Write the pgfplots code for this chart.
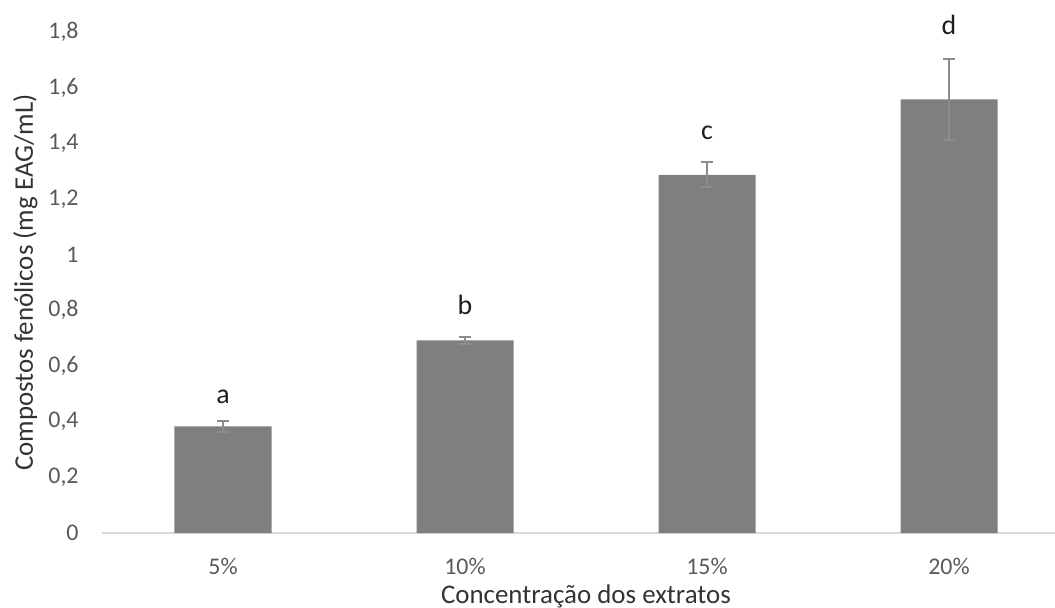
\documentclass[border=0pt]{standalone}
\usepackage{fontspec}
\setmainfont{Carlito}
\usepackage{pgfplots}
\pgfplotsset{compat=1.18}
\usetikzlibrary{calc}

\definecolor{barcol}{HTML}{7F7F80}
\definecolor{errcol}{HTML}{8C8C8C}
\definecolor{ticktxt}{HTML}{595959}
\definecolor{titletxt}{HTML}{333333}
\definecolor{lettxt}{HTML}{1E1E1E}
\definecolor{axcol}{HTML}{D9D9D9}

\begin{document}
\begin{tikzpicture}
\begin{axis}[
    scale only axis,
    width=476.5bp, height=250.5bp,
    xmin=-0.5, xmax=3.438,
    ymin=0, ymax=1.8,
    xtick={0,1,2,3},
    xticklabels={5\%,10\%,15\%,20\%},
    ytick={0,0.2,0.4,0.6,0.8,1,1.2,1.4,1.6,1.8},
    /pgf/number format/.cd, use comma, assume math mode=true,
    /pgfplots/.cd,
    axis x line*=bottom,
    axis y line*=left,
    x axis line style={draw=axcol, line width=1bp},
    y axis line style={draw=none},
    tick style={draw=none},
    ticklabel style={font=\fontsize{12}{14}\selectfont, text=ticktxt},
    yticklabel style={anchor=east, inner sep=0pt, xshift=-11.5bp},
    xticklabel style={anchor=north, inner sep=0pt, yshift=-12.5bp},
    xlabel={Concentração dos extratos},
    ylabel={Compostos fenólicos (mg EAG/mL)},
    label style={font=\fontsize{13.5}{16}\selectfont, text=titletxt},
    xlabel style={at={(axis cs:1.5,0)}, anchor=base, yshift=-35bp},
    ylabel style={at={(axis description cs:-0.0724,0.5)}, anchor=base},
    clip=false,
]
\addplot[ybar, bar width=48.5bp, fill=barcol, draw=none,
    error bars/.cd, y dir=both, y explicit,
    error bar style={draw=errcol, line width=1bp},
    error mark options={draw=errcol, rotate=90, mark size=3bp, line width=1bp}]
    coordinates {
    (0,0.383) +- (0,0.019)
    (1,0.692) +- (0,0.012)
    (2,1.287) +- (0,0.045)
    (3,1.558) +- (0,0.146)
    };
\addplot[draw=none, mark=none, nodes near coords, point meta=explicit symbolic,
    every node near coord/.append style={anchor=center, inner sep=0pt,
      font=\fontsize{14}{17}\selectfont, text=lettxt}]
    coordinates {(0,0.491)[a] (1,0.820)[b] (2,1.438)[c] (3,1.824)[d]};
\coordinate (bl) at (rel axis cs:0,0);
\coordinate (tr) at (rel axis cs:1,1);
\end{axis}
\pgfresetboundingbox
\path ($(bl)+(-51bp,-37.5bp)$) rectangle ($(tr)+(0,16bp)$);
\end{tikzpicture}
\end{document}
